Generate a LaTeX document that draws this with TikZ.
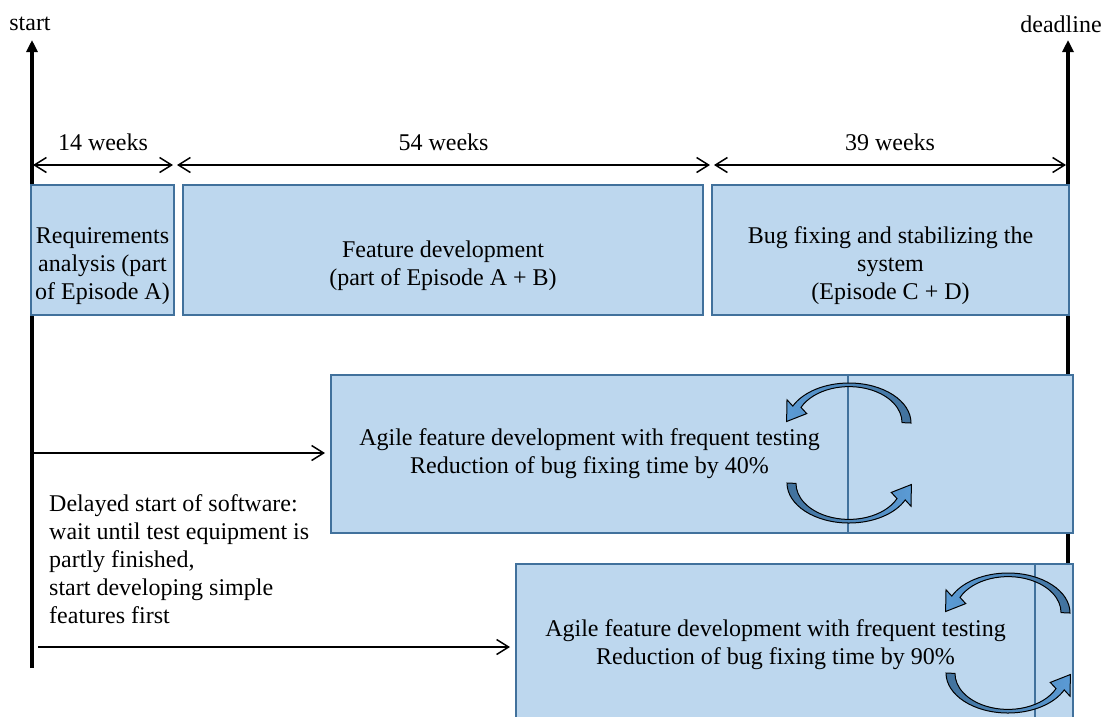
\documentclass[tikz,border=0pt]{standalone}
\usepackage{fontspec}
\setmainfont{Liberation Serif}
\usetikzlibrary{arrows.meta,positioning}
\definecolor{boxfill}{HTML}{BDD7EE}
\definecolor{boxline}{HTML}{41719C}
\definecolor{cyclight}{HTML}{5B9BD5}
\definecolor{cycdark}{HTML}{41719C}

\tikzset{
  pics/cycarrow/.style={code={
    \draw[#1] (62,0) arc[start angle=0,end angle=-155,x radius=62,y radius=40]
      -- (-62,-23.2) -- (-62.4,-1.5) -- (-42.3,-9.4) -- (-48,-15.6)
      arc[start angle=-155,end angle=0,x radius=53,y radius=36] -- cycle;
  }}
}

\begin{document}
\begin{tikzpicture}[
  x=1pt,y=-1pt,
  font=\fontsize{24}{28}\selectfont,
  box/.style={draw=boxline,fill=boxfill,line width=1.5pt,inner sep=0pt,
              outer sep=0pt,align=center},
  txt/.style={inner sep=0pt,align=center},
  axis/.style={-{Triangle[length=12pt,width=11pt]},line width=3.5pt},
  span/.style={{Straight Barb[length=12pt,width=15pt]}-{Straight Barb[length=12pt,width=15pt]},
               line width=1.5pt},
  arr/.style={-{Straight Barb[length=12pt,width=15pt]},line width=1.5pt,shorten >=6pt},
  cyctop/.style={draw=black,line width=1pt,left color=cyclight,right color=cycdark},
  cycbot/.style={draw=black,line width=1pt,left color=cycdark,right color=cyclight}
]
\useasboundingbox (0,0) rectangle (1107,716);
\clip (0,0) rectangle (1107,716);

% Time axes
\coordinate (sbot) at (32,668);
\coordinate (stop) at (32,40);
\coordinate (dbot) at (1068,710);
\coordinate (dtop) at (1068,40);
\node[txt] (startlbl) at (30,24) {start};
\node[txt] (deadlbl) at (1061,24) {deadline};
\draw[axis] (sbot) -- (stop);
\draw[axis] (dbot) -- (dtop);

% Durations
\coordinate (w0) at (33,165);
\coordinate (w1) at (173,165);
\coordinate (w1b) at (177,165);
\coordinate (w2) at (710,165);
\coordinate (w2b) at (714,165);
\coordinate (w3) at (1066,165);
\draw[span] (w0) -- node[txt,yshift=23pt] {14 weeks} (w1);
\draw[span] (w1b) -- node[txt,yshift=23pt] {54 weeks} (w2);
\draw[span] (w2b) -- node[txt,yshift=23pt] {39 weeks} (w3);

% Classic phases
\node[box,minimum width=143,minimum height=130] (req) at (102.5,250) {};
\node[box,minimum width=520,minimum height=130] (feat) at (443,250) {};
\node[box,minimum width=357,minimum height=130] (bugs) at (890.5,250) {};
\node[txt] (reqtxt) at (102.5,266) {Requirements\\analysis (part\\of Episode A)};
\node[txt] (feattxt) at (443,266) {Feature development\\(part of Episode A + B)};
\node[txt] (bugstxt) at (890.5,266) {Bug fixing and stabilizing the\\system\\(Episode C + D)};

% Agile variants
\node[box,minimum width=517,minimum height=158] (agile1) at (589.5,454)
  {Agile feature development with frequent testing\\Reduction of bug fixing time by 40\%};
\node[box,minimum width=225,minimum height=158,right=0pt of agile1] (agile1b) {};
\node[box,minimum width=519,minimum height=162] (agile2) at (775.5,645)
  {Agile feature development with frequent testing\\Reduction of bug fixing time by 90\%};
\node[box,minimum width=38,minimum height=162,right=0pt of agile2] (agile2b) {};

\node[txt,align=left,anchor=north west] (delay) at (49,494)
  {Delayed start of software:\\wait until test equipment is\\partly finished,\\start developing simple\\features first};

% Arrows
\coordinate (d1) at (34,453);
\coordinate (d2) at (38,647);
\draw[arr] (d1) -- (d1 -| agile1.west);
\draw[arr] (d2) -- (d2 -| agile2.west);

% Test cycles
\pic at (849,423) {cycarrow=cyctop};
\pic[rotate=180] at (849,483) {cycarrow=cycbot};
\pic at (1008,613) {cycarrow=cyctop};
\pic[rotate=180] at (1008,673) {cycarrow=cycbot};

\end{tikzpicture}
\end{document}
